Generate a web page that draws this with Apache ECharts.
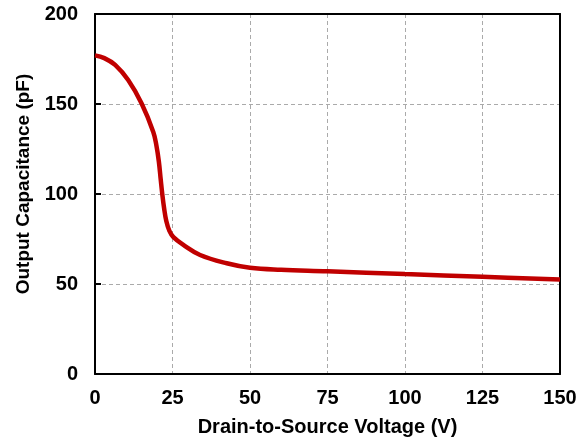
<!DOCTYPE html>
<html><head><meta charset="utf-8">
<script src="https://cdn.jsdelivr.net/npm/echarts@6/dist/echarts.min.js"></script>
<style>html,body{margin:0;padding:0;background:#fff}#c{width:583px;height:442px}</style>
</head><body><div id="c"></div>
<script>
var voltage = [0, 3, 6.5, 10.7, 15, 18.8, 19.8, 20.6, 21.2, 21.7, 22.3, 23.0, 24.0, 25.3, 28.5, 33.9, 42.5, 50, 60, 75, 100, 125, 150];
var capacitance = [177, 175.5, 171.7, 163.3, 150.4, 134.5, 127, 118, 108, 100, 92, 85, 79.5, 76, 71.7, 66.1, 61.5, 59, 57.9, 57.1, 55.5, 54, 52.5];
var xTicks = [0, 25, 50, 75, 100, 125, 150];
var yTicks = [0, 50, 100, 150, 200];

var data = voltage.map(function(v, i){ return [v, capacitance[i]]; });
var chart = echarts.init(document.getElementById('c'));
var font = 'Liberation Sans, Arial, sans-serif';
var borderAxis = {show: true, onZero: false, lineStyle: {color: '#000', width: 2}};
chart.setOption({
  animation: false,
  grid: {left: 95, right: 23, top: 14, bottom: 68},
  xAxis: [{
    type: 'value', min: 0, max: 150, interval: 25,
    name: 'Drain-to-Source Voltage (V)', nameLocation: 'middle', nameGap: 43,
    nameTextStyle: {fontFamily: font, fontWeight: 'bold', fontSize: 20, color: '#000'},
    axisLine: borderAxis,
    axisTick: {show: false},
    axisLabel: {fontFamily: font, fontWeight: 'bold', fontSize: 20, color: '#000', margin: 14},
    splitLine: {show: true, lineStyle: {color: '#aaa', type: [4, 3], width: 1}}
  }, {
    type: 'value', min: 0, max: 150, interval: 25, position: 'top',
    axisLine: borderAxis, axisTick: {show: false}, axisLabel: {show: false}, splitLine: {show: false}
  }],
  yAxis: [{
    type: 'value', min: 0, max: 200, interval: 50,
    name: 'Output Capacitance (pF)', nameLocation: 'middle', nameGap: 62,
    nameTextStyle: {fontFamily: font, fontWeight: 'bold', fontSize: 19, color: '#000', padding: [0, 0, 0, 20]},
    axisLine: borderAxis,
    axisTick: {show: true, inside: true, length: 6, lineStyle: {color: '#000', width: 2}},
    axisLabel: {fontFamily: font, fontWeight: 'bold', fontSize: 20, color: '#000', margin: 17},
    splitLine: {show: true, lineStyle: {color: '#aaa', type: [4, 3], width: 1}}
  }, {
    type: 'value', min: 0, max: 200, interval: 50, position: 'right',
    axisLine: borderAxis, axisTick: {show: false}, axisLabel: {show: false}, splitLine: {show: false}
  }],
  series: [{
    type: 'line', data: data, smooth: 0.4, symbol: 'none',
    lineStyle: {color: '#c00000', width: 4.5}, clip: false
  }]
});
</script></body></html>
